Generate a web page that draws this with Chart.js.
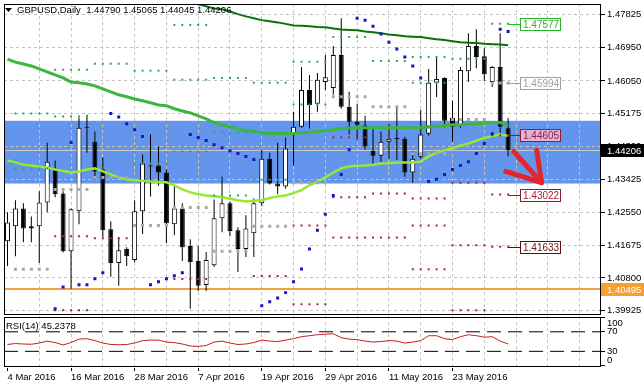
<!DOCTYPE html>
<html>
<head>
<meta charset="utf-8">
<script src="https://cdn.jsdelivr.net/npm/chart.js@4/dist/chart.umd.min.js"></script>
<style>
  html, body { margin: 0; padding: 0; background: #fff; }
  #wrap { width: 644px; height: 388px; position: relative; }
</style>
</head>
<body>
<div id="wrap"><canvas id="c" width="644" height="388"></canvas></div>
<script>
// ---- daily bars, GBPUSD (index 0 = 4 Mar 2016) ----
const opens = [1.4178,1.4218,1.4265,1.4218,1.4218,1.4281,1.4372,1.4305,1.4151,1.4258,
  1.4483,1.4443,1.4369,1.4210,1.4120,1.4157,1.4128,1.4258,1.4380,1.4380,
  1.4361,1.4223,1.4265,1.4165,1.4125,1.4061,1.4114,1.4239,1.4279,1.4207,
  1.4157,1.4199,1.4279,1.4398,1.4332,1.4324,1.4464,1.4483,1.4581,1.4544,
  1.4602,1.4586,1.4674,1.4536,1.4496,1.4486,1.4419,1.4406,1.4443,1.4451,
  1.4451,1.4361,1.4403,1.4464,1.4600,1.4613,1.4507,1.4486,1.4631,1.4698,
  1.4671,1.4602,1.4642,1.44790];
const highs = [1.4255,1.4287,1.4279,1.4244,1.4311,1.4440,1.4393,1.4311,1.4265,1.4507,
  1.4515,1.4470,1.4401,1.4231,1.4189,1.4162,1.4287,1.4409,1.4462,1.4430,
  1.4369,1.4326,1.4279,1.4183,1.4165,1.4149,1.4289,1.4350,1.4284,1.4215,
  1.4247,1.4292,1.4422,1.4414,1.4440,1.4454,1.4523,1.4642,1.4621,1.4626,
  1.4674,1.4698,1.4772,1.4576,1.4544,1.4512,1.4483,1.4470,1.4491,1.4533,
  1.4456,1.4417,1.4528,1.4637,1.4666,1.4615,1.4552,1.4642,1.4732,1.4743,
  1.4692,1.4645,1.4732,1.45065];
const lows = [1.4112,1.4138,1.4175,1.4175,1.4120,1.4255,1.4295,1.4148,1.4051,1.4223,
  1.4414,1.4342,1.4189,1.4083,1.4059,1.4112,1.4122,1.4197,1.4297,1.4326,
  1.4173,1.4194,1.4125,1.3998,1.4045,1.4045,1.4109,1.4202,1.4191,1.4096,
  1.4136,1.4136,1.4271,1.4329,1.4303,1.4318,1.4380,1.4480,1.4478,1.4523,
  1.4581,1.4568,1.4531,1.4462,1.4448,1.4422,1.4382,1.4390,1.4398,1.4395,
  1.4350,1.4334,1.4398,1.4459,1.4562,1.4483,1.4443,1.4480,1.4602,1.4639,
  1.4605,1.4589,1.4467,1.44045];
const closes = [1.4228,1.4265,1.4212,1.4212,1.4281,1.4390,1.4303,1.4151,1.4263,1.4480,
  1.4480,1.4364,1.4207,1.4120,1.4154,1.4138,1.4258,1.4385,1.4377,1.4361,
  1.4226,1.4265,1.4162,1.4122,1.4059,1.4128,1.4239,1.4279,1.4205,1.4157,
  1.4212,1.4279,1.4398,1.4332,1.4324,1.4425,1.4483,1.4581,1.4541,1.4608,
  1.4615,1.4674,1.4536,1.4496,1.4488,1.4430,1.4406,1.4443,1.4451,1.4450,
  1.4361,1.4398,1.4462,1.4600,1.4610,1.4499,1.4483,1.4634,1.4698,1.4669,
  1.4623,1.4642,1.4483,1.44206];

// moving averages
const maSlow = [null,null,null,null,null,null,null,null,null,null,
  null,null,null,null,null,null,null,null,null,null,
  null,1.4828,1.4820,1.4814,1.4809,1.4804,1.4798,1.4796,1.4790,1.4783,
  1.4777,1.4772,1.4767,1.4764,1.4761,1.4757,1.4753,1.4752,1.4751,1.4749,
  1.4748,1.4745,1.4742,1.4741,1.4740,1.4737,1.4735,1.4732,1.4729,1.4727,
  1.4724,1.4723,1.4722,1.4719,1.4716,1.4714,1.4711,1.4708,1.4707,1.4706,
  1.4704,1.4703,1.4702,1.4700];
const maMid = [1.4663,1.4655,1.4650,1.4645,1.4637,1.4629,1.4621,1.4613,1.4602,1.4600,
  1.4597,1.4592,1.4584,1.4576,1.4568,1.4563,1.4557,1.4552,1.4547,1.4541,
  1.4539,1.4531,1.4525,1.4520,1.4512,1.4504,1.4494,1.4488,1.4483,1.4478,
  1.4472,1.4470,1.4467,1.4465,1.4465,1.4465,1.4465,1.4467,1.4468,1.4470,
  1.4472,1.4475,1.4478,1.4479,1.4480,1.4480,1.4480,1.4480,1.4480,1.4480,
  1.4480,1.4480,1.4480,1.4483,1.4484,1.4486,1.4488,1.4488,1.4490,1.4491,
  1.4492,1.4494,1.4494,1.4486];
const maFast = [1.4393,1.4388,1.4382,1.4380,1.4377,1.4374,1.4369,1.4365,1.4361,1.4364,
  1.4369,1.4372,1.4364,1.4356,1.4348,1.4343,1.4340,1.4339,1.4337,1.4336,
  1.4335,1.4327,1.4316,1.4308,1.4303,1.4300,1.4298,1.4295,1.4291,1.4287,
  1.4284,1.4286,1.4287,1.4293,1.4297,1.4300,1.4306,1.4314,1.4327,1.4337,
  1.4348,1.4361,1.4372,1.4377,1.4379,1.4380,1.4382,1.4385,1.4386,1.4388,
  1.4388,1.4388,1.4390,1.4404,1.4414,1.4420,1.4426,1.4433,1.4438,1.4446,
  1.4453,1.4458,1.4462,1.4459];

// parabolic SAR
const sar = [null,null,null,null,null,null,1.3998,1.4056,1.4441,1.4062,
  1.4062,1.4078,1.4094,1.4518,1.4509,1.4491,1.4475,1.4457,1.4062,1.4070,
  1.4078,1.4086,1.4094,1.4462,1.4454,1.4446,1.4435,1.4427,1.4419,1.4412,
  1.4404,1.4396,1.4006,1.4017,1.4027,1.4041,1.4070,1.4104,1.4157,1.4207,
  1.4250,1.4300,1.4356,1.4422,1.4772,1.4767,1.4751,1.4730,1.4708,1.4690,
  1.4669,1.4645,1.4613,1.4337,1.4343,1.4356,1.4369,1.4380,1.4390,1.4412,
  1.4438,1.4464,1.4743,1.4737];

// weekly pivot levels (one value per week)
const weekStart = [1,6,11,16,21,26,31,36,41,46,51,56,61];
const weekEnd   = [5,10,15,20,25,30,35,40,45,50,55,60,63];
const pivR3 = [null,null,null,null,1.4754,1.4613,1.4600,null,null,null,1.4669,null,null];
const pivR2 = [1.4518,1.4635,null,1.4632,1.4608,1.4467,1.4467,1.4656,null,null,1.4600,null,null];
const pivR1 = [1.4372,1.4510,1.4651,1.4385,1.4417,1.4300,1.4342,1.4542,1.4722,1.4658,1.4481,1.4664,1.47577];
const pivP  = [1.4103,1.4316,1.4348,1.4220,1.4268,1.4151,1.4218,1.4334,1.4563,1.4536,1.4411,1.4502,1.45994];
const pivS1 = [null,1.4191,1.4186,null,1.4077,null,1.4085,1.4220,1.4454,1.4305,1.4292,1.4334,1.44605];
const pivS2 = [null,1.3994,null,null,null,null,null,1.4010,1.4295,1.4188,1.4220,1.4167,1.43022];
const pivS3 = [null,null,null,null,null,null,null,null,1.4188,null,1.4103,1.3994,1.41633];

// RSI(14)
const rsi = [44,46,45,44.5,47,51,48,43,48,55,
  56,52,47,44,43.5,44,47,52,53,53,
  49,48,45,41,40,42,49,51,47,44,
  45,48,53,51,50,53,56,60,62,64,
  65,66,58,55,54,51,49,50,52,51,
  47,49,52,62,62,56,54,60,64,62,
  59,60,51,45.2378];
const rsiLevels = [70, 30];
const rsiTicks = [0, 30, 70, 100];

// axes
const priceTicks = [1.39925,1.40800,1.41675,1.42550,1.43425,1.44300,1.45175,1.46050,1.46950,1.47825];
const tickBars = [0,8,16,24,32,40,48,56];
const tickDates = ['4 Mar 2016','16 Mar 2016','28 Mar 2016','7 Apr 2016','19 Apr 2016','29 Apr 2016','11 May 2016','23 May 2016'];
const gridBars = [0,4,8,12,16,20,24,28,32,36,40,44,48,52,56,60,64,68,72];

// objects on the chart
const zone = [1.43317, 1.44988];
const supportLine = 1.40495;
const lastPrice = 1.44206;
const labelBar = 64.45;
const arrowTail = [63.7, 1.4417], arrowTip = [67.2, 1.4334];
const arrowBarbs = [[66.6, 1.4420], [62.7, 1.4364]];

const xMin = -0.4375, xMax = 74.6875;
const FONT = '"Liberation Sans", Arial, sans-serif';
Chart.defaults.font.family = FONT;
Chart.defaults.font.size = 9.5;
Chart.defaults.color = '#000';

const idx = opens.map((_, i) => i);
const pts = arr => arr.map((v, i) => ({x: i, y: v}));
function pivotPoints(levels) {
  const out = [];
  weekStart.forEach((s, k) => {
    levels.forEach(lv => {
      if (lv[k] == null) return;
      for (let i = s; i <= weekEnd[k]; i++) out.push({x: i, y: lv[k]});
    });
  });
  return out;
}

const mt4 = {
  id: 'mt4',
  beforeDraw(chart) {
    const {ctx, chartArea: a} = chart;
    const y = chart.scales.y;
    ctx.save();
    ctx.fillStyle = '#fff';
    ctx.fillRect(0, 0, chart.width, chart.height);
    const t = y.getPixelForValue(zone[1]), b = y.getPixelForValue(zone[0]);
    ctx.fillStyle = 'rgb(100,149,237)';
    ctx.fillRect(a.left, t, a.right - a.left, b - t);
    ctx.restore();
  },
  beforeDatasetsDraw(chart) {
    const {ctx, chartArea: a} = chart;
    const y = chart.scales.y;
    ctx.save();
    let yy = Math.round(y.getPixelForValue(lastPrice)) + 0.5;
    ctx.strokeStyle = '#c8c8c8'; ctx.lineWidth = 1;
    ctx.beginPath(); ctx.moveTo(a.left, yy); ctx.lineTo(a.right, yy); ctx.stroke();
    yy = Math.round(y.getPixelForValue(supportLine));
    ctx.strokeStyle = 'rgb(240,160,60)'; ctx.lineWidth = 2;
    ctx.beginPath(); ctx.moveTo(a.left, yy); ctx.lineTo(a.right, yy); ctx.stroke();
    ctx.restore();
  },
  afterDraw(chart) {
    const {ctx, chartArea: a} = chart;
    const x = chart.scales.x, y = chart.scales.y, yr = chart.scales.yr;
    ctx.save();
    // panel frames
    ctx.strokeStyle = '#000'; ctx.lineWidth = 1;
    const mt = Math.round(y.top), mb = Math.round(y.bottom);
    ctx.strokeRect(a.left + 0.5, mt + 0.5, a.right - a.left - 1, mb - mt - 1);
    const rt = Math.round(yr.getPixelForValue(100)), rb = Math.round(yr.getPixelForValue(0));
    ctx.strokeRect(a.left + 0.5, rt + 0.5, a.right - a.left - 1, rb - rt);

    // pivot labels of the current week
    const last = weekStart.length - 1;
    const labs = [
      [pivR1[last], 'rgb(40,180,40)', 'rgb(40,180,40)', '#fff'],
      [pivP[last], '#a0a0a0', '#a0a0a0', '#fff'],
      [pivS1[last], 'rgb(140,30,50)', 'rgb(150,30,60)', 'rgb(225,180,215)'],
      [pivS2[last], 'rgb(140,30,50)', 'rgb(170,30,50)', '#fff'],
      [pivS3[last], 'rgb(90,15,15)', 'rgb(100,20,20)', '#fff']
    ];
    const x0 = x.getPixelForValue(weekEnd[last]), xl = Math.round(x.getPixelForValue(labelBar));
    ctx.font = '10px ' + FONT; ctx.textBaseline = 'middle'; ctx.textAlign = 'left';
    labs.forEach(([v, bc, tc, bg]) => {
      const yy = Math.round(y.getPixelForValue(v));
      ctx.strokeStyle = bc; ctx.lineWidth = 1;
      ctx.beginPath(); ctx.moveTo(x0, yy + 0.5); ctx.lineTo(xl, yy + 0.5); ctx.stroke();
      ctx.fillStyle = bg; ctx.fillRect(xl, yy - 6, 41, 13);
      ctx.strokeRect(xl + 0.5, yy - 5.5, 40, 12);
      ctx.fillStyle = tc; ctx.fillText(v.toFixed(5), xl + 3, yy + 1);
    });

    // hand drawn arrow
    const P = p => [x.getPixelForValue(p[0]), y.getPixelForValue(p[1])];
    ctx.strokeStyle = 'rgb(232,36,40)'; ctx.lineWidth = 5; ctx.lineCap = 'round'; ctx.lineJoin = 'round';
    const tip = P(arrowTip);
    ctx.beginPath(); ctx.moveTo(...P(arrowTail)); ctx.lineTo(...tip); ctx.stroke();
    arrowBarbs.forEach(b => { ctx.beginPath(); ctx.moveTo(...P(b)); ctx.lineTo(...tip); ctx.stroke(); });

    // highlighted price boxes on the axis
    ctx.font = '9.5px ' + FONT; ctx.lineCap = 'butt';
    [[lastPrice, '#000'], [supportLine, 'rgb(245,160,50)']].forEach(([v, c]) => {
      const yy = Math.round(y.getPixelForValue(v));
      ctx.fillStyle = c; ctx.fillRect(a.right, yy - 6, chart.width - a.right, 13);
      ctx.fillStyle = '#fff'; ctx.fillText(v.toFixed(5), a.right + 6, yy + 1);
    });

    // RSI axis labels
    ctx.fillStyle = '#000';
    rsiTicks.forEach(v => {
      const yy = Math.min(Math.max(yr.getPixelForValue(v), rt + 6), rb - 6);
      ctx.fillText(String(v), a.right + 6, yy);
    });

    // titles
    ctx.fillStyle = '#000';
    ctx.beginPath(); ctx.moveTo(5, 8); ctx.lineTo(12, 8); ctx.lineTo(8.5, 12); ctx.closePath(); ctx.fill();
    ctx.fillText('GBPUSD,Daily  1.44790 1.45065 1.44045 1.44206', 17, 10);
    ctx.fillText('RSI(14) 45.2378', 6, rt + 9);
    ctx.restore();
  }
};

new Chart(document.getElementById('c'), {
  type: 'bar',
  data: {
    datasets: [
      {type: 'line', data: pts(sar), yAxisID: 'y', showLine: false, pointStyle: 'rect',
        pointRadius: 2.12, pointBackgroundColor: 'rgb(20,20,200)', pointBorderWidth: 0, order: 1},
      {type: 'line', data: pivotPoints([pivR1, pivR2, pivR3]), yAxisID: 'y', showLine: false, pointStyle: 'rect',
        pointRadius: 1.42, pointBackgroundColor: 'rgb(50,168,80)', pointBorderWidth: 0, order: 2},
      {type: 'line', data: pivotPoints([pivP]), yAxisID: 'y', showLine: false, pointStyle: 'rect',
        pointRadius: 2.12, pointBackgroundColor: '#a8a8a8', pointBorderWidth: 0, order: 2},
      {type: 'line', data: pivotPoints([pivS1, pivS2, pivS3]), yAxisID: 'y', showLine: false, pointStyle: 'rect',
        pointRadius: 1.42, pointBackgroundColor: 'rgb(165,40,60)', pointBorderWidth: 0, order: 2},
      {type: 'line', data: pts(maFast), yAxisID: 'y', borderColor: 'rgb(150,232,50)', borderWidth: 2.5, pointRadius: 0, order: 3},
      {type: 'line', data: pts(maMid), yAxisID: 'y', borderColor: 'rgb(60,182,60)', borderWidth: 3, pointRadius: 0, order: 4},
      {type: 'line', data: pts(maSlow), yAxisID: 'y', borderColor: 'rgb(10,112,10)', borderWidth: 2, pointRadius: 0, order: 5},
      {type: 'bar', data: idx.map(i => ({x: i, y: [opens[i], closes[i]]})), yAxisID: 'y',
        backgroundColor: idx.map(i => closes[i] > opens[i] ? '#fff' : '#000'),
        borderColor: '#000', borderWidth: 1, borderSkipped: false, barThickness: 5, minBarLength: 1,
        inflateAmount: 0, grouped: false, order: 6},
      {type: 'bar', data: idx.map(i => ({x: i, y: [lows[i], highs[i]]})), yAxisID: 'y',
        backgroundColor: '#000', borderWidth: 0, barThickness: 1, inflateAmount: 0, grouped: false, order: 7},
      {type: 'line', data: pts(rsi), yAxisID: 'yr', borderColor: 'rgb(200,30,30)', borderWidth: 1, pointRadius: 0, order: 1},
      ...rsiLevels.map(l => ({type: 'line', data: [{x: xMin, y: l}, {x: xMax, y: l}], yAxisID: 'yr',
        borderColor: '#000', borderWidth: 1, borderDash: [14, 7], pointRadius: 0, order: 2}))
    ]
  },
  options: {
    responsive: false,
    animation: false,
    devicePixelRatio: 1,
    events: [],
    layout: {padding: {top: 3, left: 0, right: 0, bottom: 0}},
    plugins: {legend: {display: false}, tooltip: {enabled: false}},
    scales: {
      x: {
        type: 'linear', min: xMin, max: xMax, offset: false,
        afterBuildTicks: s => { s.ticks = gridBars.map(v => ({value: v})); },
        afterFit: s => { s.height = 20; s.paddingLeft = 0; s.paddingRight = 0; },
        grid: {offset: false, drawTicks: true, tickLength: 3, tickBorderDash: [],
          color: c => (c.tick && c.tick.value > 0) ? '#c4c4c4' : 'rgba(0,0,0,0)',
          tickColor: c => (c.tick && tickBars.includes(c.tick.value)) ? '#000' : 'rgba(0,0,0,0)'},
        border: {display: false, dash: [3, 3]},
        ticks: {autoSkip: false, maxRotation: 0, minRotation: 0, align: 'start', padding: 1,
          callback: v => { const k = tickBars.indexOf(v); return k < 0 ? '' : tickDates[k]; }}
      },
      y: {
        type: 'linear', position: 'right', stack: 'panes', stackWeight: 312,
        min: 1.3981, max: 1.4810,
        afterBuildTicks: s => { s.ticks = priceTicks.map(v => ({value: v})); },
        afterFit: s => { s.width = 43; s.paddingTop = 0; s.paddingBottom = 0; },
        grid: {color: '#c4c4c4', tickColor: '#000', tickLength: 4, tickBorderDash: []},
        border: {display: false, dash: [3, 3]},
        ticks: {padding: 2, callback: v => v.toFixed(5)}
      },
      yr: {
        type: 'linear', position: 'right', stack: 'panes', stackWeight: 53,
        min: -4.1, max: 104.1,
        afterBuildTicks: s => { s.ticks = rsiTicks.map(v => ({value: v})); },
        afterFit: s => { s.width = 43; s.paddingTop = 0; s.paddingBottom = 0; },
        grid: {drawOnChartArea: false, tickColor: '#000', tickLength: 4},
        border: {display: false},
        ticks: {display: false}
      }
    }
  },
  plugins: [mt4]
});
</script>
</body>
</html>
